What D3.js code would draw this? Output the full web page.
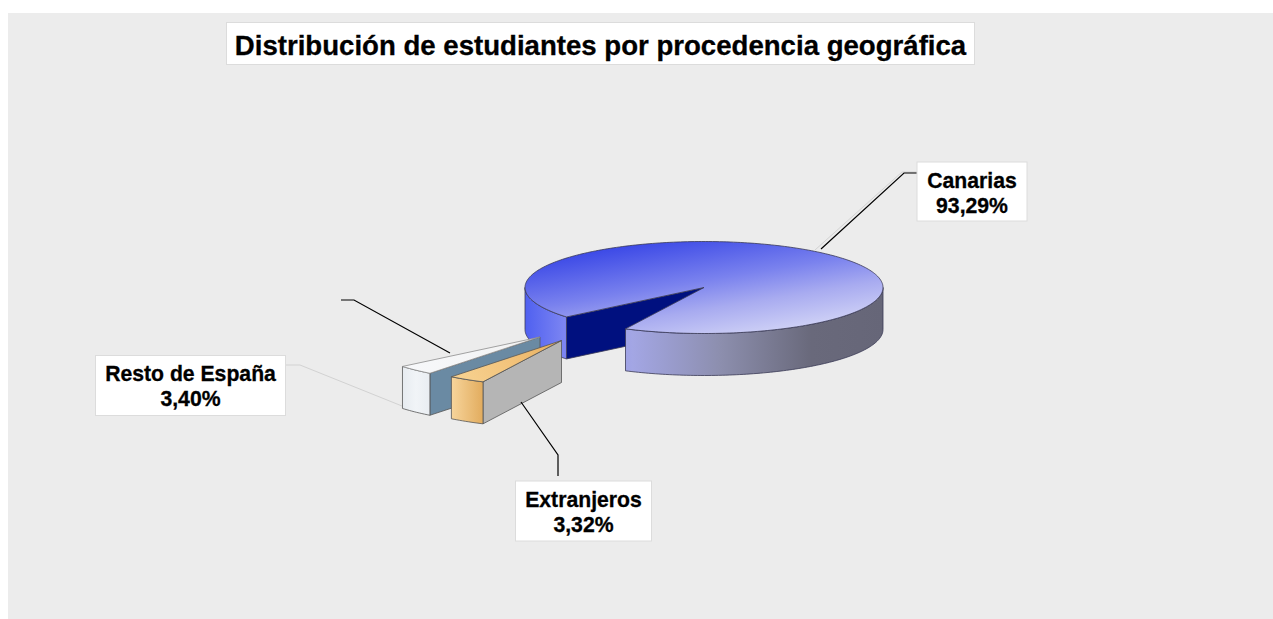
<!DOCTYPE html>
<html>
<head>
<meta charset="utf-8">
<script src="https://cdn.jsdelivr.net/npm/d3@7"></script>
<style>
    html, body { margin: 0; padding: 0; background: #fff; }
    svg { display: block; }
</style>
</head>
<body>
<svg id="main"></svg>
<script>
const width = 1273;
const height = 619;

// DATA -------------------------------------------
const title = 'Distribución de estudiantes por procedencia geográfica';
const categories = ['Canarias', 'Extranjeros', 'Resto de España'];
const shares = [93.29, 3.32, 3.40];
const share_labels = ['93,29%', '3,32%', '3,40%'];

// LAYOUT -------------------------------------------
const center = { x: 704, y: 287.5 };
const radius_x = 179;
const radius_y = 46;
const depth = 42;
const start_angle = 230.2 * Math.PI / 180;

// how far each slice is pulled out, same order as categories
const explode = [
    { x: 0, y: 0 },
    { x: -142.5, y: 53 },
    { x: -164, y: 49.5 },
];
const slice_colors = [
    { top: 'top_blue', side: 'side_blue', cut: '#00107f', stroke: '#3a3a55' },
    { top: 'top_orange', side: 'side_orange', cut: '#b5b5b5', stroke: '#555' },
    { top: 'top_white', side: 'side_white', cut: '#6a8aa3', stroke: '#555' },
];
const label_boxes = [
    { x: 917, y: 162, w: 110, h: 59 },
    { x: 515.5, y: 481, w: 136, h: 60 },
    { x: 95.5, y: 355.5, w: 190, h: 60 },
];
const leaders = [
    { points: [[815, 250], [902, 172], [918, 172]], color: '#d2d2d2', width: 1 },
    { points: [[821, 249], [904, 173], [920, 173]], color: '#000', width: 1.2 },
    { points: [[521, 402], [558, 455], [558, 476]], color: '#000', width: 1.2 },
    { points: [[450, 353], [354, 300], [341, 300]], color: '#000', width: 1.2 },
    { points: [[285, 365], [300, 365], [402, 406]], color: '#d2d2d2', width: 1 },
];

// BODY -------------------------------------------
const svg = d3.select('svg#main')
    .attr('width', width)
    .attr('height', height);

const defs = svg.append('defs');

function addGradient(id, x1, y1, x2, y2, stops) {
    const gradient = defs.append('linearGradient')
        .attr('id', id)
        .attr('gradientUnits', 'userSpaceOnUse')
        .attr('x1', x1).attr('y1', y1)
        .attr('x2', x2).attr('y2', y2);
    stops.forEach(s => gradient.append('stop')
        .attr('offset', s[0])
        .attr('stop-color', s[1]));
}

addGradient('top_blue', 570, 250, 589, 364, [[0, '#3644e6'], [0.45, '#7a82ee'], [0.7, '#a8abf0'], [1, '#d0d2f6']]);
addGradient('side_blue', 525, 0, 883, 0, [[0, '#4f60f0'], [0.12, '#8088f2'], [0.3, '#a3a6e4'], [0.55, '#8c8ead'], [0.8, '#69697b'], [1, '#666678']]);
addGradient('top_orange', 470, 390, 560, 340, [[0, '#f6d08e'], [0.5, '#f2c27a'], [1, '#e5ad5c']]);
addGradient('side_orange', 451, 0, 483, 0, [[0, '#f7d59c'], [1, '#e2ac5e']]);
addGradient('top_white', 410, 370, 540, 340, [[0, '#f7f8fa'], [1, '#f2f2f2']]);
addGradient('side_white', 402, 0, 430, 0, [[0, '#e6ebf0'], [0.5, '#f1f4f7'], [1, '#e9edf2']]);

svg.append('rect')
    .attr('x', 8).attr('y', 13)
    .attr('width', width - 8).attr('height', height - 13)
    .attr('fill', '#ececec');

const x_scale = d3.scaleLinear().domain([-1, 1]).range([-radius_x, radius_x]);
const y_scale = d3.scaleLinear().domain([-1, 1]).range([-radius_y, radius_y]);

const pie = d3.pie()
    .sort(null)
    .startAngle(start_angle)
    .endAngle(start_angle + 2 * Math.PI);
const slices = pie(shares);

// point on the rim of the tilted disc, angle 0 at the top going clockwise
function rim(angle, origin) {
    return [origin.x + x_scale(Math.sin(angle)), origin.y + y_scale(-Math.cos(angle))];
}

function arcPoints(a0, a1, origin) {
    const n = Math.max(2, Math.ceil((a1 - a0) / 0.02));
    return d3.range(n + 1).map(i => rim(a0 + (a1 - a0) * i / n, origin));
}

const line = d3.line();

// only the part of the rim facing the viewer (south half of the disc) is drawn
function frontRanges(a0, a1) {
    const ranges = [];
    for (let k = 0; k < 2; k++) {
        const lo = Math.PI / 2 + k * 2 * Math.PI;
        const hi = 3 * Math.PI / 2 + k * 2 * Math.PI;
        const from = Math.max(a0, lo);
        const to = Math.min(a1, hi);
        if (to > from) ranges.push([from, to]);
    }
    return ranges;
}

function sidePath(range, origin) {
    const upper = arcPoints(range[0], range[1], origin);
    const lower = upper.map(p => [p[0], p[1] + depth]).reverse();
    return line(upper.concat(lower)) + 'Z';
}

// draw the slice furthest back first
[0, 2, 1].forEach(i => {
    const d = slices[i];
    const colors = slice_colors[i];
    const origin = { x: center.x + explode[i].x, y: center.y + explode[i].y };
    const apex = [origin.x, origin.y];

    // flat face at the start of the slice
    const edge = rim(d.startAngle, origin);
    svg.append('path')
        .attr('d', line([apex, edge, [edge[0], edge[1] + depth], [apex[0], apex[1] + depth]]) + 'Z')
        .attr('fill', colors.cut)
        .attr('stroke', colors.stroke)
        .attr('stroke-width', 0.8);

    // curved outer wall
    frontRanges(d.startAngle, d.endAngle).forEach(range => {
        svg.append('path')
            .attr('d', sidePath(range, origin))
            .attr('fill', `url(#${colors.side})`)
            .attr('stroke', colors.stroke)
            .attr('stroke-width', 0.8);
    });

    // top face
    const top = [apex].concat(arcPoints(d.startAngle, d.endAngle, origin));
    svg.append('path')
        .attr('d', line(top) + 'Z')
        .attr('fill', `url(#${colors.top})`)
        .attr('stroke', i === 2 ? '#8d8d8d' : colors.stroke)
        .attr('stroke-width', 0.8);
});

// LEADERS -------------------------------------------
leaders.forEach(l => {
    svg.append('path')
        .attr('d', line(l.points))
        .attr('fill', 'none')
        .attr('stroke', l.color)
        .attr('stroke-width', l.width);
});

// LABELS -------------------------------------------
function boxedText(box, lines, size, baselines) {
    svg.append('rect')
        .attr('x', box.x).attr('y', box.y)
        .attr('width', box.w).attr('height', box.h)
        .attr('fill', '#fff')
        .attr('stroke', '#dcdcdc')
        .attr('stroke-width', 1);
    lines.forEach((t, i) => {
        svg.append('text')
            .text(t)
            .attr('x', box.x + box.w / 2)
            .attr('y', box.y + baselines[i])
            .attr('text-anchor', 'middle')
            .style('font-family', '"Liberation Sans", Arial, sans-serif')
            .style('font-weight', 'bold')
            .style('font-size', size + 'px')
            .style('fill', '#000')
            .style('stroke', '#000')
            .style('stroke-width', 0.3);
    });
}

boxedText({ x: 226.5, y: 22.5, w: 748, h: 42 }, [title], 27.6, [32]);
categories.forEach((c, i) => {
    boxedText(label_boxes[i], [c, share_labels[i]], 21.2, [25.5, 50.5]);
});
</script>
</body>
</html>
